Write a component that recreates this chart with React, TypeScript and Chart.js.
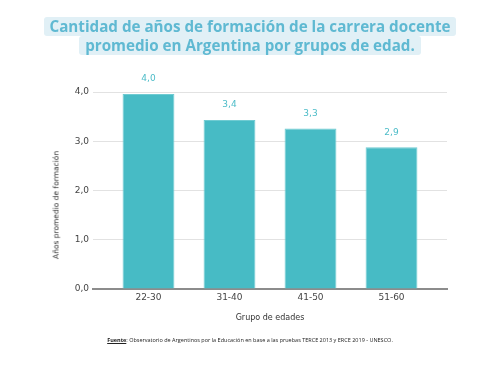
import React, { useEffect, useRef } from "react";
import { Chart, registerables } from "chart.js";

Chart.register(...registerables);

const categories: string[] = ["22-30", "31-40", "41-50", "51-60"];
const values: number[] = [3.96, 3.43, 3.26, 2.88];
const yTicks: number[] = [0, 1, 2, 3, 4];
const titleLines: string[] = [
  "Cantidad de años de formación de la carrera docente",
  "promedio en Argentina por grupos de edad.",
];
const xTitle = "Grupo de edades";
const yTitle = "Años promedio de formación";
const sourceLabel = "Fuente";
const sourceText =
  ": Observatorio de Argentinos por la Educación en base a las pruebas TERCE 2013 y ERCE 2019 - UNESCO.";

const fmt = (v: number) => v.toFixed(1).replace(".", ",");

const BAR = "#47bbc5";
const LABEL = "#4dbcc8";
const FONT = "'DejaVu Sans', Verdana, sans-serif";

const labelsPlugin = {
  id: "barLabels",
  afterDatasetsDraw(chart: any) {
    const ctx = chart.ctx;
    const meta = chart.getDatasetMeta(0);
    ctx.save();
    ctx.font = `9px ${FONT}`;
    ctx.fillStyle = LABEL;
    ctx.textAlign = "center";
    ctx.textBaseline = "middle";
    meta.data.forEach((el: any, i: number) => {
      ctx.fillText(fmt(values[i]), el.x, el.y - 15);
    });
    ctx.restore();
  },
};

export default function App() {
  const ref = useRef<HTMLCanvasElement | null>(null);
  useEffect(() => {
    if (!ref.current) return;
    const chart = new Chart(ref.current, {
      type: "bar",
      data: {
        datasets: [
          {
            data: values.map((v, i) => ({ x: i + 1, y: v })),
            backgroundColor: BAR,
            borderColor: "#6fcbd2",
            borderWidth: 1,
            barPercentage: 0.8,
            categoryPercentage: 0.8,
          },
        ],
      },
      options: {
        responsive: false,
        animation: false,
        layout: { padding: { top: 92, right: 53, bottom: 41, left: 0 } },
        plugins: {
          legend: { display: false },
          tooltip: { enabled: false },
          title: { display: false },
        },
        scales: {
          x: {
            type: "linear",
            offset: false,
            min: 0.315,
            max: 4.685,
            afterBuildTicks: (s: any) => {
              s.ticks = categories.map((_, i) => ({ value: i + 1 }));
            },
            afterFit: (s: any) => {
              s.height = 45;
            },
            grid: { display: false, drawTicks: false, offset: false },
            border: { display: true, color: "#8c8c8c", width: 2 },
            ticks: {
              padding: 3,
              color: "#444",
              font: { family: FONT, size: 9 },
              callback: (v: any) => categories[Number(v) - 1] ?? "",
              autoSkip: false,
              maxRotation: 0,
            },
            title: {
              display: true,
              text: xTitle,
              color: "#333",
              font: { family: FONT, size: 8 },
              padding: { top: 0, bottom: 11 },
            },
          },
          y: {
            min: 0,
            max: 4,
            afterBuildTicks: (s: any) => {
              s.ticks = yTicks.map((v) => ({ value: v }));
            },
            afterFit: (s: any) => {
              s.width = 93;
            },
            grid: { color: "#e2e2e2", drawTicks: false, lineWidth: 1 },
            border: { display: false },
            ticks: {
              padding: 4,
              color: "#444",
              font: { family: FONT, size: 9 },
              callback: (v: any) => fmt(Number(v)),
            },
            title: { display: false },
          },
        },
      },
      plugins: [labelsPlugin],
    });
    return () => chart.destroy();
  }, []);

  return (
    <div
      style={{
        position: "fixed",
        left: 0,
        top: 0,
        width: 500,
        height: 375,
        background: "#fff",
        overflow: "hidden",
      }}
    >
      <canvas ref={ref} width={500} height={375} style={{ position: "absolute", left: 0, top: 0 }} />
      <div
        style={{
          position: "absolute",
          left: 56,
          top: 204.5,
          transform: "translate(-50%, -50%) rotate(-90deg)",
          fontFamily: FONT,
          fontSize: 7.5,
          color: "#333",
          whiteSpace: "nowrap",
        }}
      >
        {yTitle}
      </div>
      <div
        style={{
          position: "absolute",
          top: 17,
          left: 0,
          width: 500,
          textAlign: "center",
          fontFamily: "'Open Sans', sans-serif",
          fontWeight: 700,
          fontSize: 15.2,
          color: "#5fb9d2",
        }}
      >
        {titleLines.map((t, i) => (
          <div key={i} style={{ lineHeight: "19px", height: 19 }}>
            <span
              style={{
                display: "inline-block",
                background: "#e1f0f6",
                padding: "0 6px",
                borderRadius: 3,
              }}
            >
              {t}
            </span>
          </div>
        ))}
      </div>
      <div
        style={{
          position: "absolute",
          top: 336,
          left: 0,
          width: 500,
          textAlign: "center",
          fontFamily: "'Open Sans', sans-serif",
          fontSize: 5.5,
          color: "#222",
          whiteSpace: "nowrap",
        }}
      >
        <span style={{ fontWeight: 700, textDecoration: "underline" }}>{sourceLabel}</span>
        {sourceText}
      </div>
    </div>
  );
}
